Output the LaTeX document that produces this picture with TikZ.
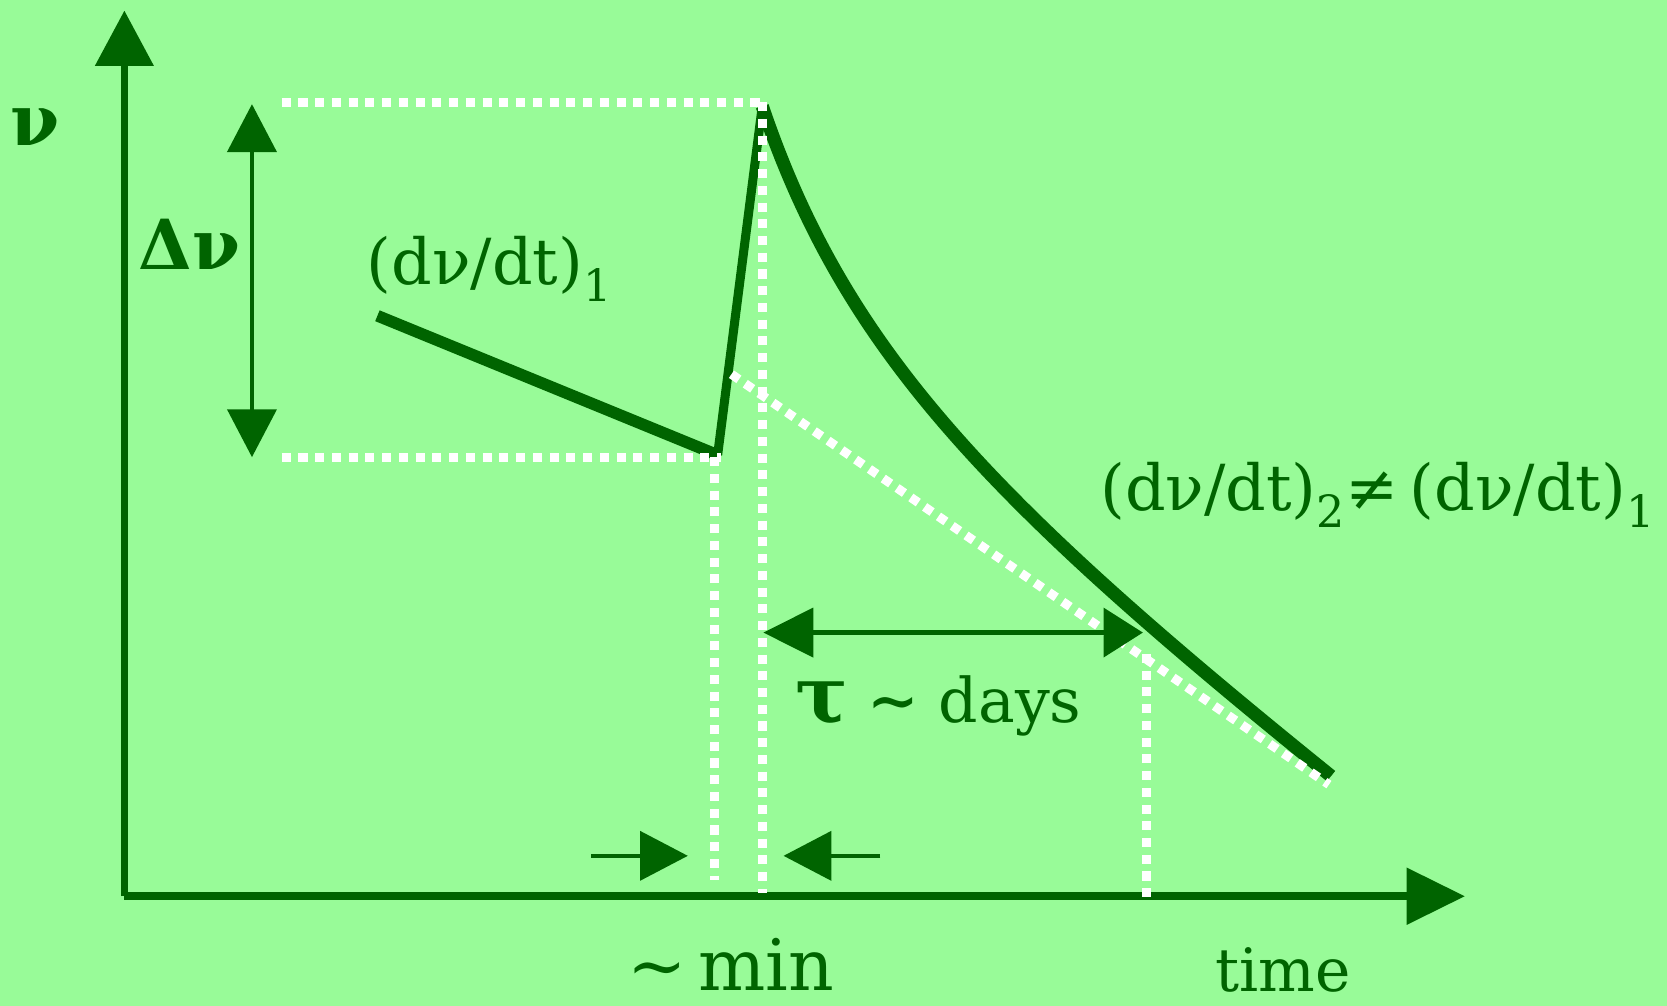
\documentclass[tikz,border=0pt]{standalone}
\usepackage{fontspec}
\setmainfont{DejaVu Serif}
\usetikzlibrary{arrows.meta}
\definecolor{bgc}{RGB}{152,251,152}
\definecolor{dg}{RGB}{0,100,0}
\begin{document}
\begin{tikzpicture}[x=0.02cm,y=-0.02cm,
  axisline/.style={draw=dg, line width=0.11cm},
  thinarrow/.style={draw=dg, line width=0.08cm},
  dots/.style={draw=white, line width=0.17cm, dash pattern=on 0.17cm off 0.145cm},
  curveline/.style={draw=dg, line width=0.25cm, line join=round, line cap=butt},
  lbl/.style={text=dg, inner sep=0pt, outer sep=0pt}]
\fill[bgc] (0,0) rectangle (1568,946);
\useasboundingbox (0,0) rectangle (1568,946);
% coordinates
\coordinate (O) at (117,843);
\coordinate (ytip) at (117,10);
\coordinate (xtip) at (1378,843);
\coordinate (A) at (355,297);
\coordinate (B) at (675,428);
\coordinate (C) at (717,100);
\coordinate (D) at (1252,730);
\coordinate (dvT) at (237,98);
\coordinate (dvB) at (237,430);
\coordinate (tauL) at (718,595);
\coordinate (tauR) at (1075,595);
\coordinate (m1s) at (556,805);
\coordinate (m1e) at (647,805);
\coordinate (m2s) at (828,805);
\coordinate (m2e) at (737,805);
\coordinate (ht1) at (265,96);
\coordinate (ht2) at (717,96);
\coordinate (hb1) at (265,430);
\coordinate (hb2) at (678,430);
\coordinate (v1t) at (672,430);
\coordinate (v1b) at (672,828);
\coordinate (v2b) at (717,840);
\coordinate (v3t) at (1078,615);
\coordinate (v3b) at (1078,848);
\coordinate (g1) at (688,352);
\coordinate (g2) at (1250,738);
% axes
\draw[axisline, line width=0.12cm, -{Triangle[length=1.04cm,width=1.08cm]}] (O) -- (ytip);
\draw[axisline, line width=0.15cm, -{Triangle[length=1.1cm,width=1.04cm]}] (O) -- (xtip);
% curve
\draw[curveline, line width=0.22cm] (A) -- (B);
\draw[curveline, line width=0.17cm] (B) -- (C);
\draw[curveline] (C) .. controls (795,330) and (930,470) .. (D);
% dotted guides
\draw[dots] (ht1) -- (ht2);
\draw[dots] (hb1) -- (hb2);
\draw[dots] (v1t) -- (v1b);
\draw[dots] (ht2) -- (v2b);
\draw[dots] (v3t) -- (v3b);
\draw[dots] (g1) -- (g2);
% arrows
\draw[thinarrow, {Triangle[length=0.9cm,width=0.92cm]}-{Triangle[length=0.9cm,width=0.92cm]}] (dvT) -- (dvB);
\draw[thinarrow, {Triangle[length=0.94cm,width=0.92cm]}-{Triangle[length=0.74cm,width=0.92cm]}] (tauL) -- (tauR);
\draw[thinarrow, -{Triangle[length=0.9cm,width=0.92cm]}] (m1s) -- (m1e);
\draw[thinarrow, -{Triangle[length=0.9cm,width=0.92cm]}] (m2s) -- (m2e);
% labels
\node[lbl, font=\fontsize{38}{40}\selectfont\bfseries] (nu) at (33,120) {ν};
\node[lbl, font=\fontsize{37}{40}\selectfont\bfseries] (dnu) at (178,230) {Δν};
\node[lbl, anchor=base west, font=\fontsize{34}{40}\selectfont] (r1) at (345,268) {(dν/dt)\textsubscript{1}};
\node[lbl, anchor=base west, font=\fontsize{34}{40}\selectfont] (r2) at (1035,480) {(dν/dt)\textsubscript{2}≠\,(dν/dt)\textsubscript{1}};
\node[lbl, anchor=base west, font=\fontsize{33}{40}\selectfont] (tau) at (748,680) {{\fontsize{42}{44}\selectfont\bfseries τ} {\bfseries ∼} days};
\node[lbl, anchor=base west, font=\fontsize{38}{44}\selectfont] (min) at (590,932) {\char`\~\,min};
\node[lbl, anchor=base west, font=\fontsize{32}{40}\selectfont] (time) at (1143,933) {time};
\end{tikzpicture}
\end{document}
